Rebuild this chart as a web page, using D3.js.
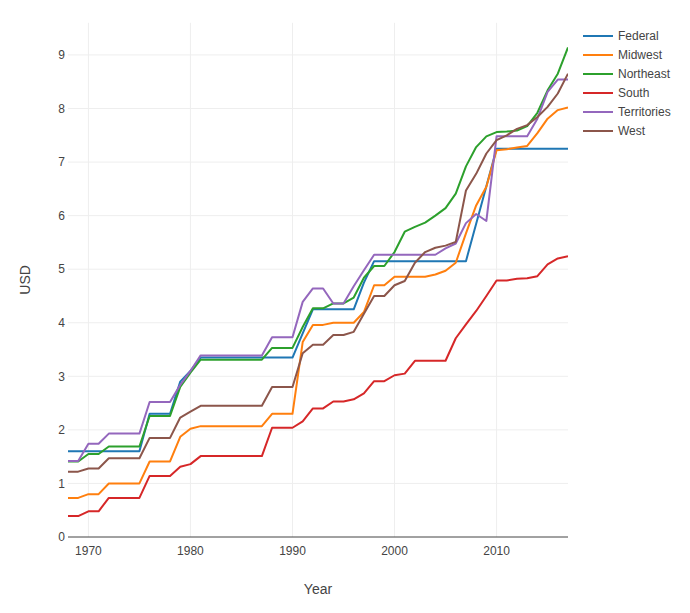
<!DOCTYPE html>
<html>
<head>
<meta charset="utf-8">
<script src="https://cdn.jsdelivr.net/npm/d3@7"></script>
<style>
  html, body { margin: 0; padding: 0; background: #fff; }
  svg { display: block; }
  text { font-family: Arial, "Liberation Sans", sans-serif; fill: #444; }
</style>
</head>
<body>
<svg id="chart" width="690" height="613"></svg>
<script>
const years = d3.range(1968, 2018);
const seriesNames = ["Federal", "Midwest", "Northeast", "South", "Territories", "West"];
const colors = ["#1f77b4", "#ff7f0e", "#2ca02c", "#d62728", "#9467bd", "#8c564b"];

const federal = [1.60,1.60,1.60,1.60,1.60,1.60,1.60,1.60,2.30,2.30,2.30,2.90,3.10,
  3.35,3.35,3.35,3.35,3.35,3.35,3.35,3.35,3.35,3.35,
  3.80,4.25,4.25,4.25,4.25,4.25,4.75,5.15,5.15,5.15,5.15,5.15,5.15,5.15,5.15,5.15,5.15,
  5.85,6.55,7.25,7.25,7.25,7.25,7.25,7.25,7.25,7.25];
const midwest = [0.73,0.73,0.80,0.80,1.00,1.00,1.00,1.00,1.41,1.41,1.41,1.87,2.02,
  2.07,2.07,2.07,2.07,2.07,2.07,2.07,2.30,2.30,2.30,
  3.64,3.96,3.96,4.00,4.00,4.00,4.20,4.70,4.70,4.86,4.86,4.86,4.86,4.90,4.97,5.12,5.67,
  6.19,6.54,7.22,7.24,7.27,7.30,7.54,7.81,7.97,8.02];
const northeast = [1.41,1.41,1.55,1.55,1.69,1.69,1.69,1.69,2.26,2.26,2.26,2.80,3.07,
  3.31,3.31,3.31,3.31,3.31,3.31,3.31,3.53,3.53,3.53,
  3.92,4.27,4.27,4.36,4.36,4.47,4.84,5.06,5.06,5.32,5.70,5.79,5.87,6.00,6.14,6.41,6.92,
  7.28,7.48,7.56,7.57,7.59,7.67,7.92,8.34,8.65,9.14];
const south = [0.39,0.39,0.48,0.48,0.73,0.73,0.73,0.73,1.14,1.14,1.14,1.31,1.36,
  1.51,1.51,1.51,1.51,1.51,1.51,1.51,2.04,2.04,2.04,
  2.16,2.40,2.40,2.53,2.53,2.57,2.68,2.91,2.91,3.02,3.05,3.29,3.29,3.29,3.29,3.71,3.97,
  4.22,4.50,4.79,4.79,4.82,4.83,4.87,5.09,5.20,5.24];
const territories = [1.42,1.42,1.74,1.74,1.93,1.93,1.93,1.93,2.52,2.52,2.52,2.84,3.10,
  3.39,3.39,3.39,3.39,3.39,3.39,3.39,3.73,3.73,3.73,
  4.39,4.64,4.64,4.36,4.36,4.68,4.98,5.27,5.27,5.27,5.27,5.27,5.27,5.27,5.39,5.48,5.86,
  6.03,5.90,7.48,7.48,7.48,7.48,7.81,8.31,8.54,8.54];
const west = [1.22,1.22,1.28,1.28,1.47,1.47,1.47,1.47,1.85,1.85,1.85,2.23,2.34,
  2.45,2.45,2.45,2.45,2.45,2.45,2.45,2.80,2.80,2.80,
  3.43,3.59,3.59,3.77,3.77,3.83,4.17,4.50,4.50,4.70,4.78,5.12,5.32,5.40,5.44,5.51,6.47,
  6.78,7.16,7.41,7.50,7.62,7.69,7.84,8.03,8.28,8.65];

const xTicks = [1970, 1980, 1990, 2000, 2010];
const yTicks = [0, 1, 2, 3, 4, 5, 6, 7, 8, 9];

const allSeries = [federal, midwest, northeast, south, territories, west];

const svg = d3.select("#chart");
const x = d3.scaleLinear().domain([1968, 2017]).range([68, 568]);
const y = d3.scaleLinear().domain([0, 9.6]).range([537, 22.8]);

// grid
const grid = svg.append("g");
grid.selectAll("line.v").data(xTicks).join("line")
  .attr("x1", d => x(d)).attr("x2", d => x(d))
  .attr("y1", y(9.6)).attr("y2", y(0))
  .attr("stroke", "#eee").attr("stroke-width", 1);
grid.selectAll("line.h").data(yTicks.filter(d => d > 0)).join("line")
  .attr("x1", x(1968)).attr("x2", x(2017))
  .attr("y1", d => y(d)).attr("y2", d => y(d))
  .attr("stroke", "#eee").attr("stroke-width", 1);

// zero line
svg.append("line")
  .attr("x1", x(1968)).attr("x2", x(2017))
  .attr("y1", y(0)).attr("y2", y(0))
  .attr("stroke", "#444").attr("stroke-width", 1);

// tick labels
svg.append("g").selectAll("text").data(yTicks).join("text")
  .attr("x", 65).attr("y", d => y(d)).attr("dy", "0.35em")
  .attr("text-anchor", "end").attr("font-size", 12)
  .text(d => d);
svg.append("g").selectAll("text").data(xTicks).join("text")
  .attr("x", d => x(d)).attr("y", 555)
  .attr("text-anchor", "middle").attr("font-size", 12)
  .text(d => d);

// axis titles
svg.append("text").attr("x", x(1992.5)).attr("y", 594)
  .attr("text-anchor", "middle").attr("font-size", 14).text("Year");
svg.append("text").attr("transform", `translate(30,${y(4.8)}) rotate(-90)`)
  .attr("text-anchor", "middle").attr("font-size", 14).text("USD");

// lines
const line = d3.line().x((d, i) => x(years[i])).y(d => y(d));
const clip = svg.append("clipPath").attr("id", "clip").append("rect")
  .attr("x", 68).attr("y", 22).attr("width", 500).attr("height", 516);
svg.append("g").attr("clip-path", "url(#clip)")
  .selectAll("path").data(allSeries).join("path")
  .attr("d", d => line(d))
  .attr("fill", "none")
  .attr("stroke", (d, i) => colors[i])
  .attr("stroke-width", 2)
  .attr("stroke-linejoin", "round");

// legend
const legend = svg.append("g");
seriesNames.forEach((name, i) => {
  const ly = 36 + i * 19;
  legend.append("line").attr("x1", 583).attr("x2", 613)
    .attr("y1", ly).attr("y2", ly)
    .attr("stroke", colors[i]).attr("stroke-width", 2);
  legend.append("text").attr("x", 618).attr("y", ly).attr("dy", "0.35em")
    .attr("font-size", 12).text(name);
});
</script>
</body>
</html>
